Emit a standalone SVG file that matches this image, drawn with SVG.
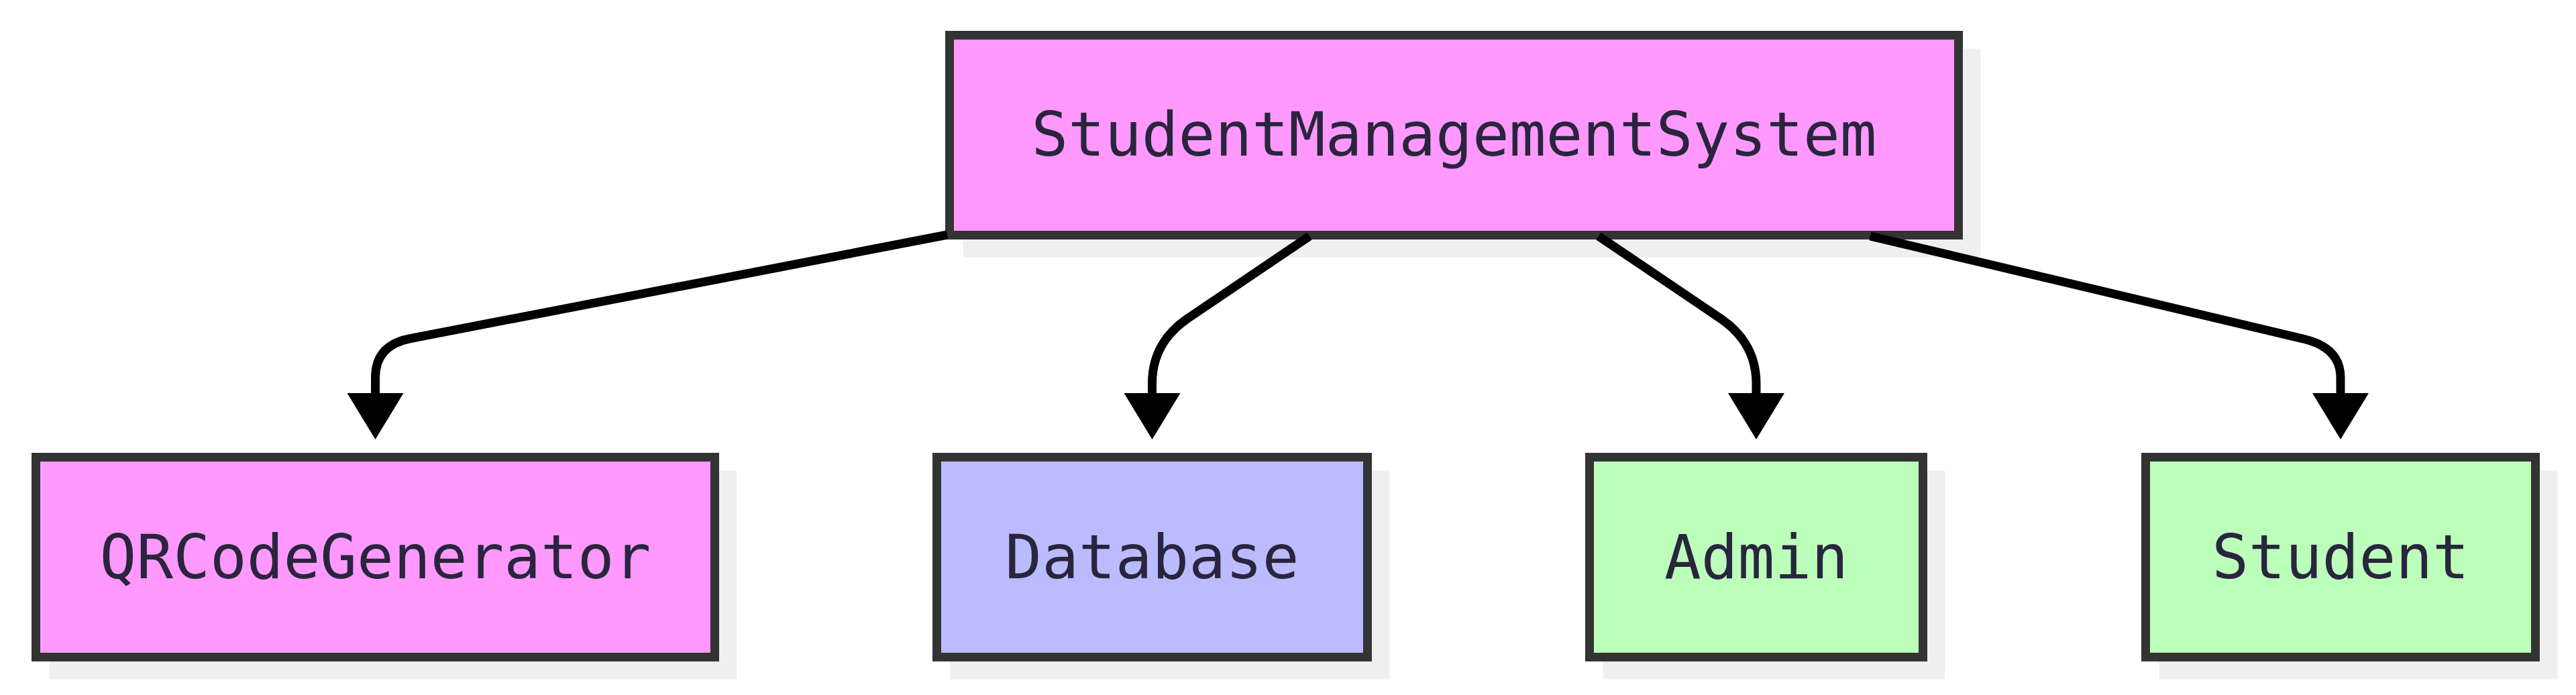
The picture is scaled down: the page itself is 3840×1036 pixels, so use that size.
<svg xmlns="http://www.w3.org/2000/svg" width="3840" height="1036" viewBox="0 0 3840 1036">
  <style>
    .shadow { fill: #efefef; stroke: none; }
    .box { stroke: #333333; stroke-width: 13; }
    .pink { fill: #ff99ff; }
    .blue { fill: #bbbbff; }
    .green { fill: #bbffbb; }
    .label { font-family: "DejaVu Sans Mono", "Liberation Mono", monospace; font-size: 91px; fill: #29253d; text-anchor: middle; }
    .edge { fill: none; stroke: #000000; stroke-width: 13; stroke-linejoin: round; stroke-linecap: butt; }
  </style>
  <defs>
    <marker id="arrow" viewBox="0 0 69 84" refX="0" refY="42" markerWidth="69" markerHeight="84" markerUnits="userSpaceOnUse" orient="auto">
      <path d="M0,0 L69,42 L0,84 Z" fill="#000000"/>
    </marker>
  </defs>
  <rect width="3840" height="1036" fill="#ffffff"/>

  <g id="node-StudentManagementSystem">
    <rect class="shadow" x="1435.5" y="72.5" width="1517" height="311"/>
    <rect class="box pink" x="1415.5" y="52.5" width="1504" height="298"/>
    <text class="label" x="2167.5" y="232">StudentManagementSystem</text>
  </g>

  <g id="node-QRCodeGenerator">
    <rect class="shadow" x="73.5" y="701.5" width="1025" height="311"/>
    <rect class="box pink" x="53.5" y="681.5" width="1012" height="298"/>
    <text class="label" x="559.5" y="862">QRCodeGenerator</text>
  </g>

  <g id="node-Database">
    <rect class="shadow" x="1416.5" y="701.5" width="655" height="311"/>
    <rect class="box blue" x="1396.5" y="681.5" width="642" height="298"/>
    <text class="label" x="1717.5" y="862">Database</text>
  </g>

  <g id="node-Admin">
    <rect class="shadow" x="2389.5" y="701.5" width="510" height="311"/>
    <rect class="box green" x="2369.5" y="681.5" width="497" height="298"/>
    <text class="label" x="2618" y="862">Admin</text>
  </g>

  <g id="node-Student">
    <rect class="shadow" x="3218.5" y="701.5" width="594" height="311"/>
    <rect class="box green" x="3198.5" y="681.5" width="581" height="298"/>
    <text class="label" x="3489" y="862">Student</text>
  </g>

  <g id="connectors">
    <path class="edge" marker-end="url(#arrow)" d="M1412,350 L610,505 Q559.5,515 559.5,563 L559.5,586"/>
    <path class="edge" marker-end="url(#arrow)" d="M1952,352 L1770,475 Q1717.5,511 1717.5,572 L1717.5,586"/>
    <path class="edge" marker-end="url(#arrow)" d="M2383,352 L2565,475 Q2618,511 2618,572 L2618,586"/>
    <path class="edge" marker-end="url(#arrow)" d="M2788,352 L3433,505 Q3489,518 3489,563 L3489,586"/>
  </g>
</svg>
